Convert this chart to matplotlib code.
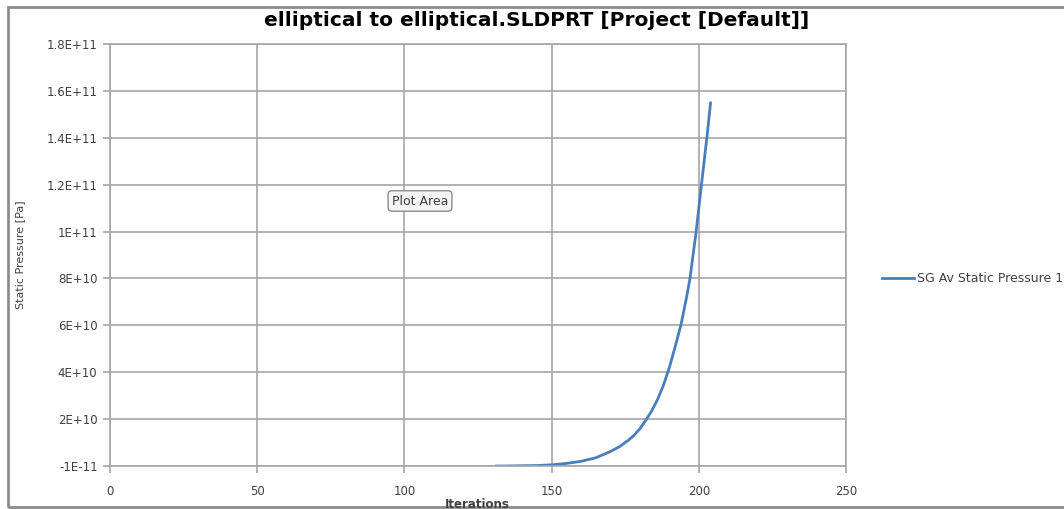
import numpy as np
import matplotlib.pyplot as plt
from matplotlib.patches import Rectangle

# SG Av Static Pressure vs iteration
iterations = [131, 135, 140, 145, 150, 155, 160, 165, 170, 173, 176, 178, 180,
              182, 184, 186, 188, 190, 192, 194, 196, 197, 198, 199, 200, 201,
              202, 203, 204]
pressure = [0.0, 0.0, 0.01e10, 0.02e10, 0.05e10, 0.11e10, 0.2e10, 0.35e10,
            0.62e10, 0.82e10, 1.09e10, 1.31e10, 1.59e10, 1.95e10, 2.35e10,
            2.84e10, 3.45e10, 4.2e10, 5.1e10, 6.05e10, 7.3e10, 8.0e10, 8.95e10,
            9.9e10, 11.0e10, 12.1e10, 13.2e10, 14.3e10, 15.5e10]

x_ticks = [0, 50, 100, 150, 200, 250]
y_ticks = [0, 2e10, 4e10, 6e10, 8e10, 1e11, 1.2e11, 1.4e11, 1.6e11, 1.8e11]
y_labels = ['-1E-11', '2E+10', '4E+10', '6E+10', '8E+10', '1E+11',
            '1.2E+11', '1.4E+11', '1.6E+11', '1.8E+11']

W, H = 1064, 509
grid_col = '#a6a6a6'
text_col = '#404040'
line_col = '#4a7ebb'

fig = plt.figure(figsize=(W / 100, H / 100), dpi=100)
ax = fig.add_axes([110 / W, 1 - 466 / H, (846 - 110) / W, (466 - 44) / H])

ax.plot(iterations, pressure, color=line_col, lw=2.0, solid_capstyle='round')

ax.set_xlim(0, 250)
ax.set_ylim(0, 1.8e11)
ax.set_xticks(x_ticks)
ax.set_xticklabels([str(v) for v in x_ticks])
ax.set_yticks(y_ticks)
ax.set_yticklabels(y_labels)
ax.grid(True, color=grid_col, lw=1.2)
ax.set_axisbelow(True)
for sp in ax.spines.values():
    sp.set_color(grid_col)
    sp.set_linewidth(1.2)
ax.tick_params(axis='both', colors=grid_col, length=5, width=1.2,
               labelsize=8.5, labelcolor=text_col, pad=4)
ax.tick_params(axis='x', pad=9)

fig.text(537 / W, 1 - 20 / H, 'elliptical to elliptical.SLDPRT [Project [Default]]',
         ha='center', va='center', fontsize=14.5, fontweight='bold',
         family='DejaVu Sans', color='black')
fig.text(477 / W, 1 - 504 / H, 'Iterations', ha='center', va='center',
         fontsize=8.5, fontweight='bold', family='DejaVu Sans', color=text_col)
fig.text(20 / W, 1 - 255 / H, 'Static Pressure [Pa]', rotation=90,
         ha='center', va='center', fontsize=8,
         family=['Liberation Sans Narrow', 'DejaVu Sans'], color=text_col)

# legend drawn by hand to the right of the plot
fig.add_artist(plt.Line2D([882 / W, 914 / W], [1 - 278 / H, 1 - 278 / H],
                          color=line_col, lw=2.0))
fig.text(917 / W, 1 - 278 / H, 'SG Av Static Pressure 1', ha='left',
         va='center', fontsize=9, color=text_col)

# "Plot Area" hover tip
fig.text(420 / W, 1 - 201 / H, 'Plot Area', ha='center', va='center',
         fontsize=9, color=text_col,
         bbox=dict(boxstyle='round,pad=0.3,rounding_size=0.3', fc='#f4f4f4',
                   ec='#8c8c8c', lw=1.0))

# chart border
fig.add_artist(Rectangle((8 / W, 2 / H), 1.2, 1 - 9 / H, transform=fig.transFigure,
                         fill=False, ec='#8c8c8c', lw=2.0))

fig.savefig('out.png', dpi=100)
